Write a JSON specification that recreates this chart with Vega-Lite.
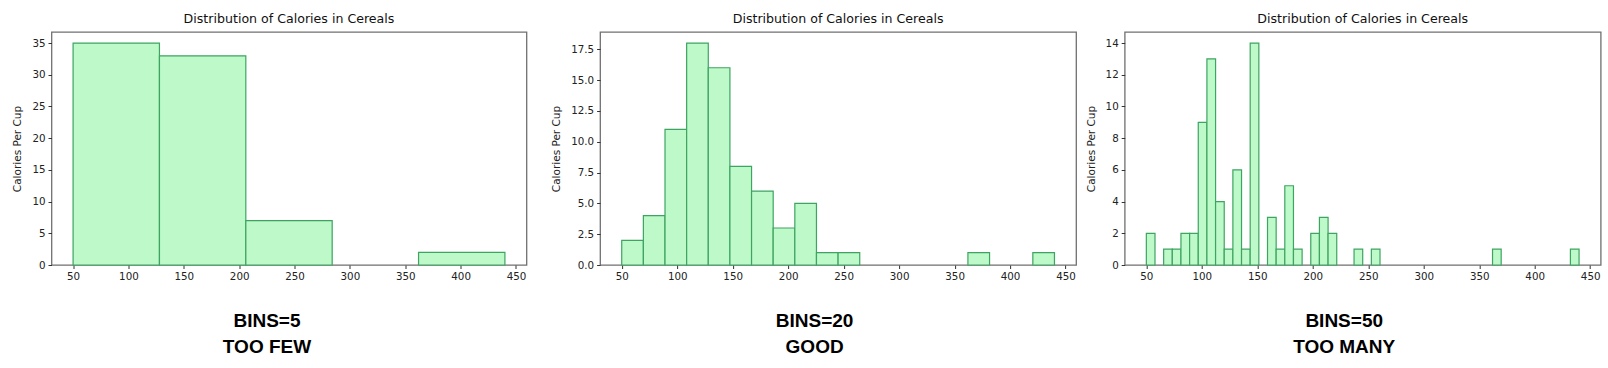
{
  "$schema": "https://vega.github.io/schema/vega-lite/v6.json",
  "padding": {"left": 11.5, "top": 12, "right": 0, "bottom": 0},
  "background": "white",
  "datasets": {
    "bars": [
      {"panel": "b5", "bin_start": 50, "bin_end": 128, "count": 35},
      {"panel": "b5", "bin_start": 128, "bin_end": 206, "count": 33},
      {"panel": "b5", "bin_start": 206, "bin_end": 284, "count": 7},
      {"panel": "b5", "bin_start": 362, "bin_end": 440, "count": 2},
      {"panel": "b20", "bin_start": 50, "bin_end": 69.5, "count": 2},
      {"panel": "b20", "bin_start": 69.5, "bin_end": 89, "count": 4},
      {"panel": "b20", "bin_start": 89, "bin_end": 108.5, "count": 11},
      {"panel": "b20", "bin_start": 108.5, "bin_end": 128, "count": 18},
      {"panel": "b20", "bin_start": 128, "bin_end": 147.5, "count": 16},
      {"panel": "b20", "bin_start": 147.5, "bin_end": 167, "count": 8},
      {"panel": "b20", "bin_start": 167, "bin_end": 186.5, "count": 6},
      {"panel": "b20", "bin_start": 186.5, "bin_end": 206, "count": 3},
      {"panel": "b20", "bin_start": 206, "bin_end": 225.5, "count": 5},
      {"panel": "b20", "bin_start": 225.5, "bin_end": 245, "count": 1},
      {"panel": "b20", "bin_start": 245, "bin_end": 264.5, "count": 1},
      {"panel": "b20", "bin_start": 362, "bin_end": 381.5, "count": 1},
      {"panel": "b20", "bin_start": 420.5, "bin_end": 440, "count": 1},
      {"panel": "b50", "bin_start": 50, "bin_end": 57.8, "count": 2},
      {"panel": "b50", "bin_start": 65.6, "bin_end": 73.4, "count": 1},
      {"panel": "b50", "bin_start": 73.4, "bin_end": 81.2, "count": 1},
      {"panel": "b50", "bin_start": 81.2, "bin_end": 89, "count": 2},
      {"panel": "b50", "bin_start": 89, "bin_end": 96.8, "count": 2},
      {"panel": "b50", "bin_start": 96.8, "bin_end": 104.6, "count": 9},
      {"panel": "b50", "bin_start": 104.6, "bin_end": 112.4, "count": 13},
      {"panel": "b50", "bin_start": 112.4, "bin_end": 120.2, "count": 4},
      {"panel": "b50", "bin_start": 120.2, "bin_end": 128, "count": 1},
      {"panel": "b50", "bin_start": 128, "bin_end": 135.8, "count": 6},
      {"panel": "b50", "bin_start": 135.8, "bin_end": 143.6, "count": 1},
      {"panel": "b50", "bin_start": 143.6, "bin_end": 151.4, "count": 14},
      {"panel": "b50", "bin_start": 159.2, "bin_end": 167, "count": 3},
      {"panel": "b50", "bin_start": 167, "bin_end": 174.8, "count": 1},
      {"panel": "b50", "bin_start": 174.8, "bin_end": 182.6, "count": 5},
      {"panel": "b50", "bin_start": 182.6, "bin_end": 190.4, "count": 1},
      {"panel": "b50", "bin_start": 198.2, "bin_end": 206, "count": 2},
      {"panel": "b50", "bin_start": 206, "bin_end": 213.8, "count": 3},
      {"panel": "b50", "bin_start": 213.8, "bin_end": 221.6, "count": 2},
      {"panel": "b50", "bin_start": 237.2, "bin_end": 245, "count": 1},
      {"panel": "b50", "bin_start": 252.8, "bin_end": 260.6, "count": 1},
      {"panel": "b50", "bin_start": 362, "bin_end": 369.8, "count": 1},
      {"panel": "b50", "bin_start": 432.2, "bin_end": 440, "count": 1}
    ]
  },
  "spacing": 73.6,
  "bounds": "flush",
  "hconcat": [
    {
      "title": "Distribution of Calories in Cereals",
      "width": 475,
      "height": 233,
      "data": {"name": "bars"},
      "transform": [{"filter": "datum.panel === 'b5'"}],
      "mark": {"type": "rect", "fill": "#bdf9c9", "stroke": "#3ea461", "strokeWidth": 1.2},
      "encoding": {
        "x": {"field": "bin_start", "type": "quantitative", "scale": {"domain": [30.5, 459.5], "nice": false, "zero": false},
              "axis": {"values": [50,100,150,200,250,300,350,400,450], "title": ["BINS=5", "TOO FEW"], "titleX": 215}},
        "x2": {"field": "bin_end"},
        "y": {"field": "count", "type": "quantitative", "scale": {"domain": [0, 36.75], "nice": false},
              "axis": {"values": [0,5,10,15,20,25,30,35], "title": "Calories Per Cup", "titleX": -29}}
      }
    },
    {
      "spacing": 48.6,
      "bounds": "flush",
      "hconcat": [
        {
          "title": "Distribution of Calories in Cereals",
          "width": 476,
          "height": 233,
          "data": {"name": "bars"},
          "transform": [{"filter": "datum.panel === 'b20'"}],
          "mark": {"type": "rect", "fill": "#bdf9c9", "stroke": "#3ea461", "strokeWidth": 1.2},
          "encoding": {
            "x": {"field": "bin_start", "type": "quantitative", "scale": {"domain": [30.5, 459.5], "nice": false, "zero": false},
                  "axis": {"values": [50,100,150,200,250,300,350,400,450], "title": ["BINS=20", "GOOD"], "titleX": 214}},
            "x2": {"field": "bin_end"},
            "y": {"field": "count", "type": "quantitative", "scale": {"domain": [0, 18.9], "nice": false},
                  "axis": {"values": [0,2.5,5,7.5,10,12.5,15,17.5], "format": ".1f", "title": "Calories Per Cup", "titleX": -38.5}}
          }
        },
        {
          "title": "Distribution of Calories in Cereals",
          "width": 476,
          "height": 233,
          "data": {"name": "bars"},
          "transform": [{"filter": "datum.panel === 'b50'"}],
          "mark": {"type": "rect", "fill": "#bdf9c9", "stroke": "#3ea461", "strokeWidth": 1.2},
          "encoding": {
            "x": {"field": "bin_start", "type": "quantitative", "scale": {"domain": [30.5, 459.5], "nice": false, "zero": false},
                  "axis": {"values": [50,100,150,200,250,300,350,400,450], "title": ["BINS=50", "TOO MANY"], "titleX": 219}},
            "x2": {"field": "bin_end"},
            "y": {"field": "count", "type": "quantitative", "scale": {"domain": [0, 14.7], "nice": false},
                  "axis": {"values": [0,2,4,6,8,10,12,14], "title": "Calories Per Cup", "titleX": -28}}
          }
        }
      ]
    }
  ],
  "config": {
    "view": {"stroke": "#707070", "strokeWidth": 1.3},
    "axis": {
      "domain": false,
      "grid": false,
      "labelFont": "DejaVu Sans",
      "labelFontSize": 10.3,
      "labelColor": "#222222",
      "tickColor": "#333333",
      "tickSize": 3.5,
      "tickWidth": 1,
      "labelPadding": 3,
      "titleFont": "DejaVu Sans",
      "titleFontSize": 10.5,
      "titleFontWeight": "normal",
      "titleColor": "#222222"
    },
    "axisY": {
      "titleBaseline": "bottom",
      "titleAlign": "center"
    },
    "axisX": {
      "titleFont": "Liberation Sans",
      "titleFontSize": 19,
      "titleFontWeight": "bold",
      "titleColor": "#000000",
      "titleLineHeight": 26.7,
      "titleBaseline": "alphabetic",
      "titleAlign": "center",
      "titleY": 61
    },
    "title": {
      "font": "DejaVu Sans",
      "fontSize": 12.6,
      "fontWeight": "normal",
      "color": "#111111",
      "baseline": "alphabetic",
      "offset": 6
    }
  }
}
